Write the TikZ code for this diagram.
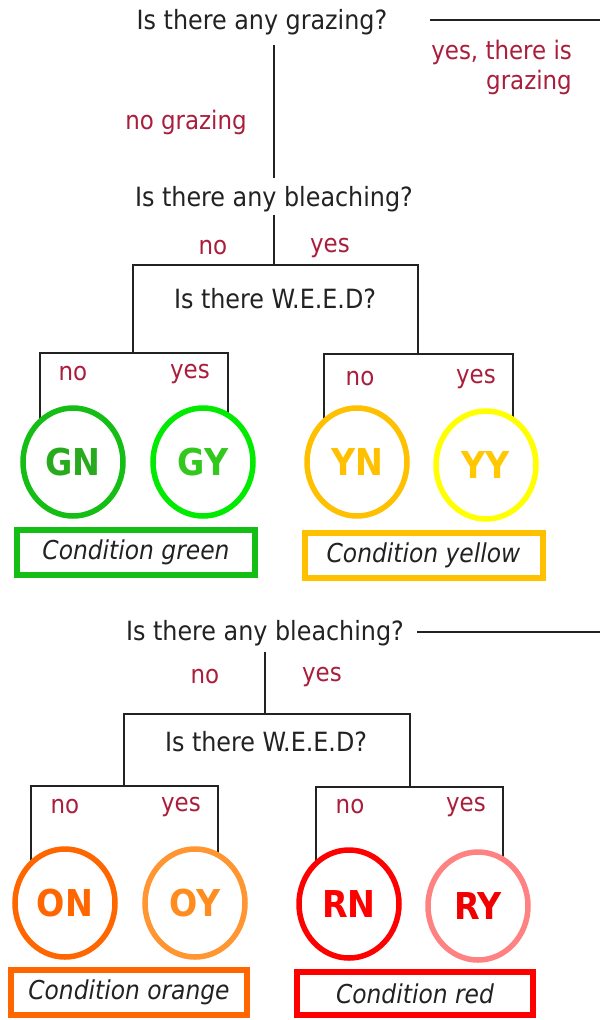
\documentclass[tikz,border=0pt]{standalone}
\usepackage{fontspec}
\setmainfont{DejaVu Sans Condensed}
\usetikzlibrary{shapes.geometric,backgrounds}
\definecolor{qtext}{RGB}{34,34,34}
\definecolor{labred}{RGB}{170,30,60}
\definecolor{cGN}{RGB}{20,190,20}\definecolor{tGN}{RGB}{40,170,30}
\definecolor{cGY}{RGB}{0,235,0}\definecolor{tGY}{RGB}{50,200,30}
\definecolor{cYN}{RGB}{255,192,0}
\definecolor{cYY}{RGB}{255,255,0}\definecolor{tYY}{RGB}{255,200,0}
\definecolor{cON}{RGB}{255,102,0}
\definecolor{cOY}{RGB}{255,150,50}\definecolor{tOY}{RGB}{255,140,30}
\definecolor{cRN}{RGB}{255,0,0}
\definecolor{cRY}{RGB}{255,130,130}\definecolor{tRY}{RGB}{240,0,0}
\tikzset{
  quest/.style={text=qtext, inner sep=0pt, yshift=-2pt, font=\fontsize{26.5}{30}\selectfont},
  lab/.style={text=labred, inner sep=0pt, yshift=-2pt, font=\fontsize{25.5}{30}\selectfont},
  leaf/.style={ellipse, draw=#1, line width=5.5pt, fill=white, minimum width=100pt, minimum height=108pt, inner sep=0pt, font=\bfseries\fontsize{37}{42}\selectfont},
  condbox/.style={draw=#1, line width=6pt, fill=white, minimum width=238pt, minimum height=45pt, inner sep=0pt, text=qtext, font=\itshape\fontsize{26}{30}\selectfont},
  conn/.style={draw=qtext, line width=1.3pt},
}
\begin{document}
\begin{tikzpicture}[x=1pt,y=-1pt]
\useasboundingbox (0,0) rectangle (600,1020);
% ---------- top section ----------
\node[quest] (q1) at (262,20) {Is there any grazing?};
\node[quest] (q2) at (274,197) {Is there any bleaching?};
\node[quest] (w1) at (275,297) {Is there W.E.E.D?};
\coordinate (e1) at (600,20);
\coordinate (a1) at (274,45);
\coordinate (a2) at (274,178);
\coordinate (b1) at (274,215);
\coordinate (b2) at (274,265);
\coordinate (bl) at (133,265);
\coordinate (br) at (418,265);
\coordinate (sl) at (133,353);
\coordinate (sr) at (418,353);
\coordinate (l1) at (40,353);
\coordinate (l2) at (228,353);
\coordinate (r1) at (324,354);
\coordinate (r2) at (513,354);

\node[lab] at (186,120) {no grazing};
\node[lab, align=right, anchor=east, font=\fontsize{25.5}{30}\selectfont] at (572,65) {yes, there is\\grazing};
\node[lab] at (213,246) {no};
\node[lab] at (330,246) {yes};
\node[lab] at (73,372) {no};
\node[lab] at (190,372) {yes};
\node[lab] at (360,377) {no};
\node[lab] at (476,377) {yes};

\node[leaf=cGN, text=tGN] (GN) at (73,462) {GN};
\node[leaf=cGY, text=tGY] (GY) at (203,462) {GY};
\node[leaf=cYN, text=cYN] (YN) at (357,462) {YN};
\node[leaf=cYY, text=tYY] (YY) at (486,465) {YY};
\node[condbox=cGN] (CG) at (136,552.5) {Condition green};
\node[condbox=cYN] (CY) at (423.5,555) {Condition yellow};

% ---------- bottom section ----------
\node[quest] (q3) at (265,631) {Is there any bleaching?};
\node[quest] (w2) at (266,740) {Is there W.E.E.D?};
\coordinate (e3) at (600,632);
\coordinate (c1) at (265,652);
\coordinate (c2) at (265,714);
\coordinate (cl) at (124,714);
\coordinate (cr) at (410,714);
\coordinate (tl) at (124,786);
\coordinate (tr) at (410,786);
\coordinate (m1) at (31,786);
\coordinate (m2) at (218,786);
\coordinate (n1) at (316,787);
\coordinate (n2) at (503,787);

\node[lab] at (205,675) {no};
\node[lab] at (322,675) {yes};
\node[lab] at (65,805) {no};
\node[lab] at (181,805) {yes};
\node[lab] at (350,805) {no};
\node[lab] at (466,805) {yes};

\node[leaf=cON, text=cON] (ON) at (65,903) {ON};
\node[leaf=cOY, text=tOY] (OY) at (195,903) {OY};
\node[leaf=cRN, text=cRN] (RN) at (349,904) {RN};
\node[leaf=cRY, text=tRY] (RY) at (478,906) {RY};
\node[condbox=cON, minimum width=236pt] (CO) at (129,992.5) {Condition orange};
\node[condbox=cRN, minimum width=236pt, minimum height=43pt] (CR) at (415,993.5) {Condition red};

\begin{pgfonlayer}{background}
\fill[white] (0,0) rectangle (600,1020);
\path[conn] (430,20) -- (e1);
\path[conn] (a1) -- (a2);
\path[conn] (b1) -- (b2);
\path[conn] (sl) -- (bl) -- (br) -- (sr);
\path[conn] (l1 |- GN.center) -- (l1) -- (l2) -- (l2 |- GY.center);
\path[conn] (r1 |- YN.center) -- (r1) -- (r2) -- (r2 |- YY.center);
\path[conn] (417,632) -- (e3);
\path[conn] (c1) -- (c2);
\path[conn] (tl) -- (cl) -- (cr) -- (tr);
\path[conn] (m1 |- ON.center) -- (m1) -- (m2) -- (m2 |- OY.center);
\path[conn] (n1 |- RN.center) -- (n1) -- (n2) -- (n2 |- RY.center);
\end{pgfonlayer}
\end{tikzpicture}
\end{document}
